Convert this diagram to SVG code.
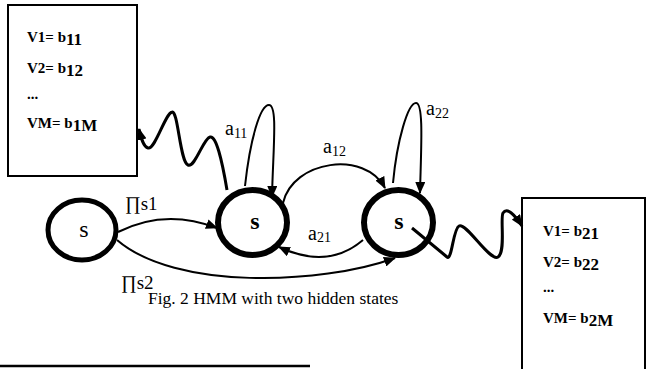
<svg xmlns="http://www.w3.org/2000/svg" width="646" height="369" viewBox="0 0 646 369">
<style>
.bg{fill:#fff}
.box{fill:#fff;stroke:#000;stroke-width:2}
.st{fill:none;stroke:#000}
.bt{font-family:"Liberation Serif","Times New Roman",serif;font-weight:bold;font-size:15px;fill:#000}
.bt tspan.sub{font-size:17px}
.lbl{font-family:"Liberation Serif","Times New Roman",serif;font-size:20px;fill:#000}
.lbl tspan.sub{font-size:14px}
.pi{font-family:"Liberation Serif","Times New Roman",serif;font-size:19px;fill:#000}
.cap{font-family:"Liberation Serif","Times New Roman",serif;font-size:17.5px;fill:#000}
.sl{font-family:"Liberation Serif","Times New Roman",serif;font-size:24px;fill:#000;text-anchor:middle}
.edge{fill:none;stroke:#000;stroke-width:2}
.wave{fill:none;stroke:#000;stroke-width:3}
</style>
<defs>
<marker id="ah" viewBox="0 0 12 10" refX="11" refY="5" markerWidth="12" markerHeight="10" markerUnits="userSpaceOnUse" orient="auto"><path d="M0,0 L12,5 L0,10 z" fill="#000"/></marker>
</defs>
<rect class="bg" x="0" y="0" width="646" height="369"/>

<g id="emission1">
<rect class="box" x="8" y="5" width="129" height="171"/>
<text class="bt" x="27" y="42">V1= b<tspan class="sub" dy="3">11</tspan></text>
<text class="bt" x="27" y="73">V2= b<tspan class="sub" dy="3">12</tspan></text>
<text class="bt" x="27" y="99">...</text>
<text class="bt" x="27" y="128">VM= b<tspan class="sub" dy="3">1M</tspan></text>
</g>

<g id="emission2">
<rect class="box" x="522" y="198" width="123" height="180"/>
<text class="bt" x="543" y="236">V1= b<tspan class="sub" dy="3">21</tspan></text>
<text class="bt" x="543" y="267">V2= b<tspan class="sub" dy="3">22</tspan></text>
<text class="bt" x="543" y="292">...</text>
<text class="bt" x="543" y="323">VM= b<tspan class="sub" dy="3">2M</tspan></text>
</g>

<g id="start">
<ellipse class="st" cx="82" cy="230" rx="34" ry="30" stroke-width="5"/>
<text class="sl" x="84" y="237">s</text>
</g>

<g id="state1">
<ellipse class="st" cx="252.5" cy="222.5" rx="34.5" ry="32.5" stroke-width="6"/>
<text class="sl" x="255" y="229" font-weight="bold">s</text>
</g>

<g id="state2">
<ellipse class="st" cx="398.5" cy="222.5" rx="34.5" ry="32.5" stroke-width="6"/>
<text class="sl" x="399" y="229" font-weight="bold">s</text>
</g>

<g id="connectors">
<path class="edge" d="M118,232 Q165,208 217,228" marker-end="url(#ah)"/>
<path class="edge" d="M117,240 C175,290 320,285 395,258" marker-end="url(#ah)"/>
<path class="edge" d="M283,203 C293,160 365,150 385,188" marker-end="url(#ah)"/>
<path class="edge" d="M363,240 Q328,270 279,247" marker-end="url(#ah)"/>
<path class="edge" d="M245,186 C250,140 260,105 269,105 C278,105 273,150 272,197" marker-end="url(#ah)"/>
<path class="edge" d="M393,183 C397,140 408,103 416,103 C424,103 421,150 420,193" marker-end="url(#ah)"/>
<path class="wave" d="M227,190 C222,160 216,135 210,137 C203,139 195,168 188,165 C180,162 178,110 172,112 C165,114 155,150 148,148 C143,147 141,137 139,129" marker-end="url(#ah)"/>
<path class="wave" d="M412,228 L447,257 C452,261 453,229 459,226 C466,222 490,262 498,257 C506,252 500,218 503,213 C507,207 514,214 522,226" marker-end="url(#ah)"/>
<text class="pi" x="125" y="210">∏s1</text>
<text class="pi" x="121" y="289">∏s2</text>
<text class="lbl" x="225" y="135">a<tspan class="sub" dy="3">11</tspan></text>
<text class="lbl" x="323" y="153">a<tspan class="sub" dy="3">12</tspan></text>
<text class="lbl" x="308" y="240">a<tspan class="sub" dy="2">21</tspan></text>
<text class="lbl" x="426" y="115">a<tspan class="sub" dy="3">22</tspan></text>
</g>

<text class="cap" x="148" y="304">Fig. 2 HMM with two hidden states</text>
<path d="M0,366 L310,366" stroke="#000" stroke-width="2.5"/>
</svg>
